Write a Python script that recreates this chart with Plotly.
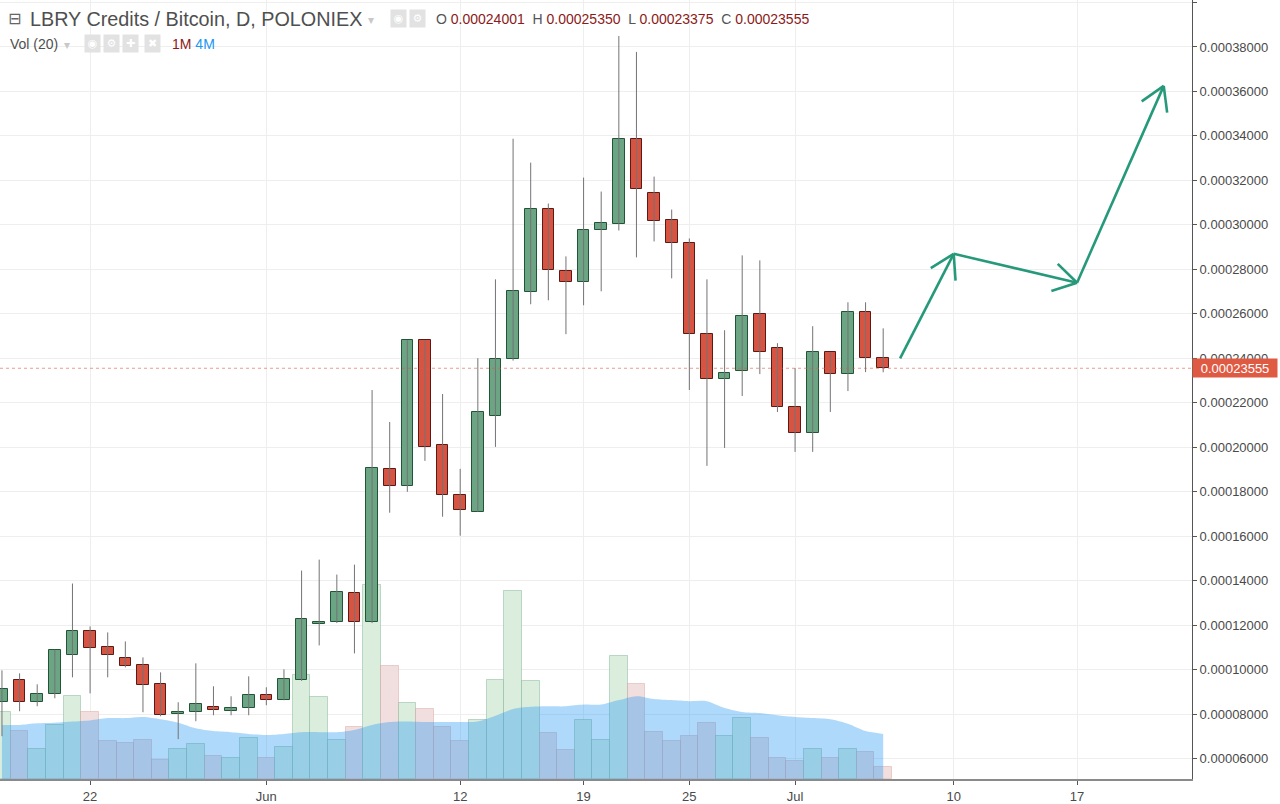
import math
import pandas as pd
import plotly.graph_objects as go

# ---------------- data (prices in satoshi, volume in millions LBC) ----------------
DATES = pd.date_range("2017-05-17", periods=51, freq="D")

OPEN = [8540, 9527, 8540, 8899, 10648, 11724, 11006, 10513, 10198, 9347,
        8002, 8091, 8316, 8136, 8271, 8854, 8630, 9527, 12038, 12127,
        13473, 12127, 19033, 18270, 24817, 20109, 17867, 17105, 21409, 23965,
        26969, 30736, 27911, 27418, 29749, 30018, 33875, 31453, 30198, 29167,
        25086, 23068, 23427, 25983, 24458, 21813, 20647, 24279, 23292, 26073,
        24001]
HIGH = [9975, 9840, 9347, 10900, 13876, 11948, 11679, 11275, 10557, 9885,
        8540, 10289, 9257, 8809, 9706, 9213, 10020, 14459, 14952, 14280,
        14728, 22575, 21140, 24817, 24817, 22396, 19033, 24010, 27552, 33875,
        32799, 30960, 28584, 32126, 31498, 38493, 37776, 32171, 30691, 29391,
        27552, 25265, 28629, 28404, 24683, 23561, 25445, 24279, 26521, 26521,
        25350]
LOW = [7015, 8136, 8361, 8719, 9661, 8943, 9661, 10109, 8091, 7912,
       6881, 7688, 7957, 7957, 7957, 8406, 8630, 9500, 11096, 12100,
       10737, 12100, 17060, 18001, 19391, 16880, 16028, 17100, 20019, 23900,
       26431, 26611, 25086, 26386, 27014, 29749, 28539, 29256, 27597, 22575,
       19167, 19974, 22306, 23292, 21589, 19795, 19795, 21589, 22530, 23382,
       23375]
CLOSE = [9123, 8540, 8899, 10872, 11724, 10961, 10648, 10154, 9302, 7957,
         8091, 8450, 8181, 8271, 8854, 8630, 9572, 12262, 12127, 13517,
         12127, 19078, 18270, 24817, 20019, 17867, 17194, 21589, 23965, 27014,
         30736, 27956, 27418, 29749, 30063, 33875, 31633, 30153, 29167, 25086,
         23068, 23337, 25893, 24279, 21813, 20647, 24279, 23292, 26073, 24010,
         23555]
VOLUME = [5.9, 4.3, 2.7, 4.8, 7.4, 5.9, 3.4, 3.2, 3.5, 1.7,
          2.7, 3.1, 2.0, 1.9, 3.6, 1.9, 2.8, 9.2, 7.3, 3.5,
          4.6, 17.2, 10.0, 6.7, 6.2, 4.6, 3.4, 5.2, 8.8, 16.7,
          8.7, 4.1, 2.6, 5.2, 3.5, 10.9, 8.4, 4.2, 3.4, 3.8,
          5.0, 3.8, 5.4, 3.6, 1.9, 1.6, 2.7, 1.9, 2.7, 2.4,
          1.1]
VOL_MA20 = [4.8, 4.8, 4.95, 5.0, 5.1, 5.2, 5.4, 5.4, 5.5, 5.3,
            5.0, 4.5, 4.25, 4.15, 4.0, 3.9, 4.0, 4.15, 4.15, 4.15,
            4.35, 4.8, 5.05, 5.1, 5.05, 5.05, 5.05, 5.1, 5.6, 6.2,
            6.4, 6.45, 6.45, 6.6, 6.6, 7.0, 7.35, 7.1, 7.0, 6.9,
            6.9, 6.3, 5.95, 5.85, 5.65, 5.5, 5.4, 5.3, 4.9, 4.25,
            4.0]

# forecast drawing (user-drawn arrows)
DRAW_T = ["2017-07-06 23:00", "2017-07-10 00:00", "2017-07-17 00:00", "2017-07-21 22:00"]
DRAW_P = [0.000240, 0.000287, 0.000274, 0.0003625]

TICK_DATES = ["2017-05-22", "2017-06-01", "2017-06-12", "2017-06-19",
              "2017-06-25", "2017-07-01", "2017-07-10", "2017-07-17"]
TICK_TEXT = ["22", "Jun", "12", "19", "25", "Jul", "10", "17"]

SAT = 1e-8
o = [v * SAT for v in OPEN]
h = [v * SAT for v in HIGH]
l = [v * SAT for v in LOW]
c = [v * SAT for v in CLOSE]
up = [cc >= oo for oo, cc in zip(o, c)]

# ---------------- layout constants ----------------
W, H = 1280, 804
ML, MR, MT, MB = 0, 88, 0, 23
PW, PH = W - ML - MR, H - MT - MB
X_RANGE = ["2017-05-16 21:20", "2017-07-23 12:30"]
Y_RANGE = [0.0000509, 0.0004011]
VOL_RANGE = [0, 69.1]

PPD = PW / ((pd.Timestamp(X_RANGE[1]) - pd.Timestamp(X_RANGE[0])) / pd.Timedelta(days=1))
PPP = PH / (Y_RANGE[1] - Y_RANGE[0])

G_BODY, G_EDGE = "#6ba583", "#225437"
R_BODY, R_EDGE = "#d75442", "#5b1a13"
WICK = "#737375"
ARROW = "#26997b"

fig = go.Figure()

# volume bars (base axis y)
fig.add_trace(go.Bar(
    x=DATES, y=VOLUME, width=86400000 * 1.0, yaxis="y",
    marker=dict(color=["rgb(219,238,222)" if u else "rgb(241,223,223)" for u in up],
                line=dict(color=["rgba(107,165,131,0.4)" if u else "rgba(200,120,110,0.3)" for u in up],
                          width=1)),
    hoverinfo="skip"))

# volume MA area
fig.add_trace(go.Scatter(
    x=DATES, y=VOL_MA20, yaxis="y", mode="lines", line=dict(width=0, shape="spline", smoothing=0.8),
    fill="tozeroy", fillcolor="rgba(33,150,243,0.36)", hoverinfo="skip"))

# wicks
wx, wy = [], []
for d, lo, hi in zip(DATES, l, h):
    wx += [d, d, None]
    wy += [lo, hi, None]
fig.add_trace(go.Scatter(x=wx, y=wy, yaxis="y2", mode="lines",
                         line=dict(color=WICK, width=1), hoverinfo="skip"))

# candle bodies
fig.add_trace(go.Bar(
    x=DATES, base=[min(a, b) for a, b in zip(o, c)],
    y=[abs(b - a) for a, b in zip(o, c)], yaxis="y2",
    width=86400000 * 0.66,
    marker=dict(color=[G_BODY if u else R_BODY for u in up],
                line=dict(color=[G_EDGE if u else R_EDGE for u in up], width=1)),
    hoverinfo="skip"))


# arrows drawing
def arrow_path(ts, ps, head=27, ang=31):
    xs, ys = [], []
    for k in range(len(ts) - 1):
        ta, tb = pd.Timestamp(ts[k]), pd.Timestamp(ts[k + 1])
        pa, pb = ps[k], ps[k + 1]
        xs += [ta.isoformat(), tb.isoformat(), None]
        ys += [pa, pb, None]
        dx = (tb - ta) / pd.Timedelta(days=1) * PPD
        dy = -(pb - pa) * PPP
        L = math.hypot(dx, dy)
        ux, uy = -dx / L, -dy / L
        for sgn in (1, -1):
            a = math.radians(ang) * sgn
            rx = ux * math.cos(a) - uy * math.sin(a)
            ry = ux * math.sin(a) + uy * math.cos(a)
            te = tb + pd.Timedelta(days=rx * head / PPD)
            xs += [tb.isoformat(), te.isoformat(), None]
            ys += [pb, pb - ry * head / PPP, None]
    return xs, ys


ax_, ay_ = arrow_path(DRAW_T, DRAW_P)
fig.add_trace(go.Scatter(x=ax_, y=ay_, yaxis="y2", mode="lines",
                         line=dict(color=ARROW, width=2.6), hoverinfo="skip"))

# last price line
fig.add_shape(type="line", xref="paper", x0=0, x1=1, yref="y2", y0=c[-1], y1=c[-1],
              line=dict(color="rgba(222,88,66,0.6)", width=1, dash="dot"))

FONT = "Liberation Sans, Arial, sans-serif"
ann = []
ann.append(dict(xref="paper", x=1, xanchor="left", yref="y2", y=c[-1], yanchor="middle",
                text=f"{c[-1]:.8f}", showarrow=False, bgcolor="#df5a43",
                font=dict(color="white", size=13, family=FONT),
                width=82, height=16, borderpad=1, align="center"))


def px(x, y):
    return x / PW, 1 - y / PH


def label(x, y, text, size=13, color="#4f4f4f", family=FONT, **kw):
    xp, yp = px(x, y)
    d = dict(xref="paper", yref="paper", x=xp, y=yp, xanchor="left", yanchor="middle",
             text=text, showarrow=False, font=dict(size=size, color=color, family=family))
    d.update(kw)
    ann.append(d)


label(6, 19, "⊟", size=16, color="#666", family="DejaVu Sans")
label(28, 19, "LBRY Credits / Bitcoin, D, POLONIEX", size=19.8, color="#4f4f4f")
label(366, 20, "▾", size=12, color="#c8c8c8", family="DejaVu Sans")
for xi, g in [(390, "◉"), (409, "⚙")]:
    label(xi, 19, g, size=11, color="white", family="DejaVu Sans", bgcolor="#e2e2e2",
          width=13, height=15, borderpad=1)
VAL = "#8b1a1a"
LAB = "#555"
ohlc = (f'<span style="color:{LAB}">O</span> <span style="color:{VAL}">{o[-1]:.8f}</span>  '
        f'<span style="color:{LAB}">H</span> <span style="color:{VAL}">{h[-1]:.8f}</span>  '
        f'<span style="color:{LAB}">L</span> <span style="color:{VAL}">{l[-1]:.8f}</span>  '
        f'<span style="color:{LAB}">C</span> <span style="color:{VAL}">{c[-1]:.8f}</span>')
label(434, 19, ohlc, size=14)

label(8, 44, "Vol (20)", size=14, color="#4f4f4f")
label(62, 45, "▾", size=12, color="#c8c8c8", family="DejaVu Sans")
for xi, g in [(84, "◉"), (103, "⚙"), (122, "✚"), (144, "✖")]:
    label(xi, 44, g, size=11, color="white", family="DejaVu Sans", bgcolor="#e2e2e2",
          width=13, height=15, borderpad=1)
label(170, 44, f'<span style="color:{VAL}">{round(VOLUME[-1])}M</span> '
               f'<span style="color:#2196f3">{round(VOL_MA20[-1])}M</span>', size=14)

fig.update_layout(
    width=W, height=H, margin=dict(l=ML, r=MR, t=MT, b=MB),
    paper_bgcolor="white", plot_bgcolor="white", showlegend=False,
    barmode="overlay", bargap=0, hovermode=False,
    font=dict(family=FONT, size=13, color="#4a4a4a"),
    xaxis=dict(type="date", range=X_RANGE, tickvals=TICK_DATES, ticktext=TICK_TEXT,
               showgrid=True, gridcolor="#eeeeee", gridwidth=1, zeroline=False,
               showline=True, linecolor="#8a8a8a", linewidth=2,
               ticks="outside", ticklen=4, tickcolor="#555",
               tickfont=dict(size=13, color="#4a4a4a", family=FONT)),
    yaxis=dict(range=VOL_RANGE, visible=False, showgrid=False, fixedrange=True),
    yaxis2=dict(overlaying="y", side="right", range=Y_RANGE, tick0=0, dtick=0.00002,
                tickformat=".8f", showgrid=True, gridcolor="#eeeeee", zeroline=False,
                showline=True, linecolor="#555", linewidth=1,
                ticks="outside", ticklen=4, tickcolor="#555",
                tickfont=dict(size=13, color="#4a4a4a", family=FONT)),
    annotations=ann,
)

fig.write_html("out.html", config={"displayModeBar": False},
               post_script="document.body.style.margin='0';")
